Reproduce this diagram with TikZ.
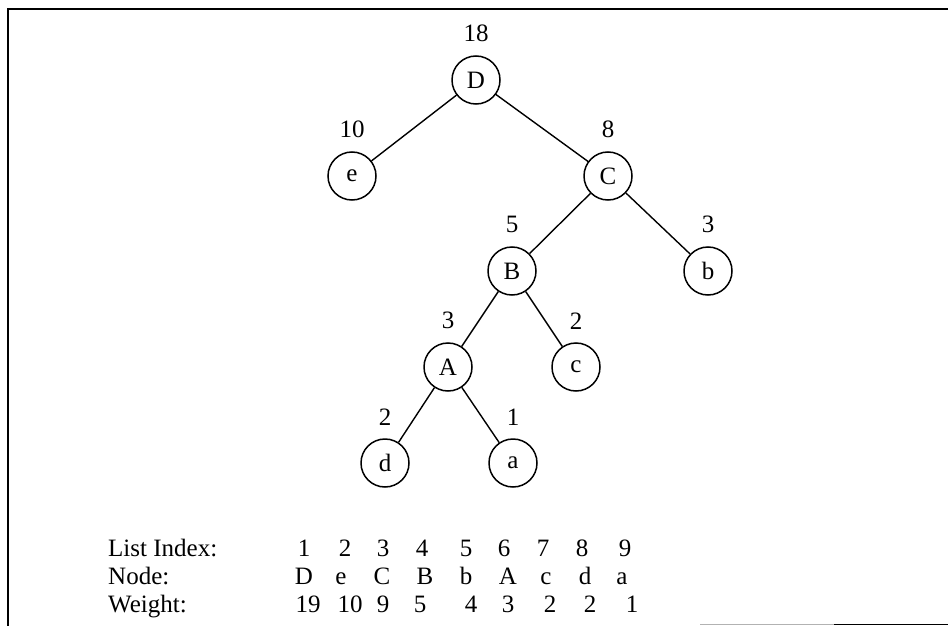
\documentclass[tikz,border=0pt]{standalone}
\usepackage{fontspec}
\setmainfont{Liberation Serif}

\tikzset{
  hnode/.style={draw, circle, line width=1.5pt, minimum size=48pt, inner sep=0pt},
  wlabel/.style={inner sep=0pt, label distance=13pt},
  edge/.style={line width=1.4pt},
  rowhead/.style={anchor=base west, inner sep=0pt},
  cell/.style={anchor=base, inner sep=0pt},
}

\begin{document}
\begin{tikzpicture}[x=1pt, y=-1pt, font=\fontsize{25}{30}\selectfont]
    \useasboundingbox (0,0) rectangle (948,626);

    % frame
    \draw[line width=2.5pt] (8,626) -- (8,9) -- (948,9);
    \draw[gray!60, line width=1.2pt] (700,624.5) -- (834,624.5);
    \draw[line width=1.5pt] (834,624.5) -- (948,624.5);

    % Huffman tree, weight above each node
    \node[hnode, label={[wlabel]above:18}] (D) at (476,80)  {D};
    \node[hnode, label={[wlabel]above:10}] (e) at (352,176) {e};
    \node[hnode, label={[wlabel]above:8}]  (C) at (608,176) {C};
    \node[hnode, label={[wlabel]above:5}]  (B) at (512,271) {B};
    \node[hnode, label={[wlabel]above:3}]  (b) at (708,271) {b};
    \node[hnode, label={[wlabel]above:3}]  (A) at (448,367) {A};
    \node[hnode, label={[wlabel]above:2}]  (c) at (576,367) {c};
    \node[hnode, label={[wlabel]above:2}]  (d) at (385,463) {d};
    \node[hnode, label={[wlabel]above:1}]  (a) at (513,463) {a};

    \draw[edge] (D) -- (e);
    \draw[edge] (D) -- (C);
    \draw[edge] (C) -- (B);
    \draw[edge] (C) -- (b);
    \draw[edge] (B) -- (A);
    \draw[edge] (B) -- (c);
    \draw[edge] (A) -- (d);
    \draw[edge] (A) -- (a);

    % list table
    \node[rowhead] (hidx) at (108,556) {List Index:};
    \node[rowhead] (hnod) at (108,584) {Node:};
    \node[rowhead] (hwgt) at (108,612) {Weight:};

    \foreach \x/\v [count=\i] in {304/1, 345/2, 383/3, 422/4, 466/5, 504/6, 543/7, 582/8, 625/9}
        \node[cell] (idx\i) at (\x,556) {\v};
    \foreach \x/\v [count=\i] in {304/D, 341/e, 382/C, 425/B, 466/b, 508/A, 546/c, 585/d, 622/a}
        \node[cell] (nod\i) at (\x,584) {\v};
    \foreach \x/\v [count=\i] in {308/19, 350/10, 383/9, 420/5, 471/4, 508/3, 550/2, 590/2, 632/1}
        \node[cell] (wgt\i) at (\x,612) {\v};
\end{tikzpicture}
\end{document}
